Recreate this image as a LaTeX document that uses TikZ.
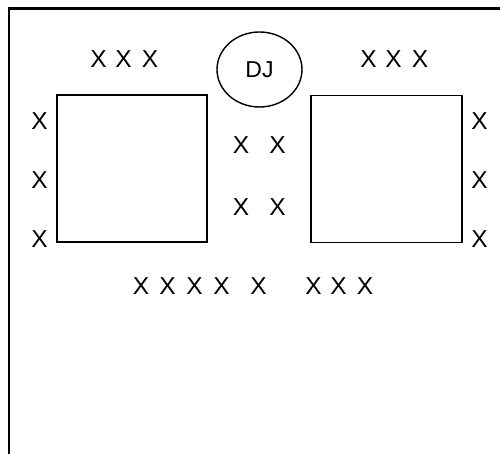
\documentclass[tikz,border=0pt]{standalone}
\usepackage{fontspec}
\setmainfont{Liberation Sans}
\usetikzlibrary{positioning,shapes.geometric}
\tikzset{
	floor/.style={line width=2.6pt},
	table/.style={draw,line width=1.8pt,minimum width=150pt,minimum height=147pt,
		inner sep=0pt,outer sep=0pt},
	booth/.style={draw,ellipse,line width=1.4pt,minimum width=85pt,minimum height=75pt,
		inner sep=0pt,font=\fontsize{23}{27}\selectfont},
	guest/.style={inner sep=0pt,font=\fontsize{24.5}{28}\selectfont}
}

\begin{document}
\begin{tikzpicture}[x=1pt,y=1pt]
	\useasboundingbox (0,0) rectangle (500,454);
	\draw[floor] (9,0) |- (500,445.5);
	\node[table] (tableL) at (132,285.5) {};
	\node[table,minimum width=151pt] (tableR) at (386.5,285) {};
	\node[booth] (dj) at (259.5,384.5) {DJ};
	% guests round the tables
	\foreach \x [count=\i] in {98.5,123.5,150}
		\node[guest] (topL\i) at (\x,395) {X};
	\foreach \x [count=\i] in {368.5,393.5,420}
		\node[guest] (topR\i) at (\x,395) {X};
	\foreach \y [count=\i] in {332.5,274,214.5} {
		\node[guest] (sideL\i) at (39.5,\y) {X};
		\node[guest] (sideR\i) at (479.5,\y) {X};
	}
	\foreach \x [count=\i] in {241,277.5} {
		\node[guest] (midA\i) at (\x,309) {X};
		\node[guest] (midB\i) at (\x,247) {X};
	}
	\foreach \x [count=\i] in {141,167.5,194.5,221.5,258.5,313.5,338.5,365}
		\node[guest] (front\i) at (\x,167.5) {X};
\end{tikzpicture}
\end{document}
